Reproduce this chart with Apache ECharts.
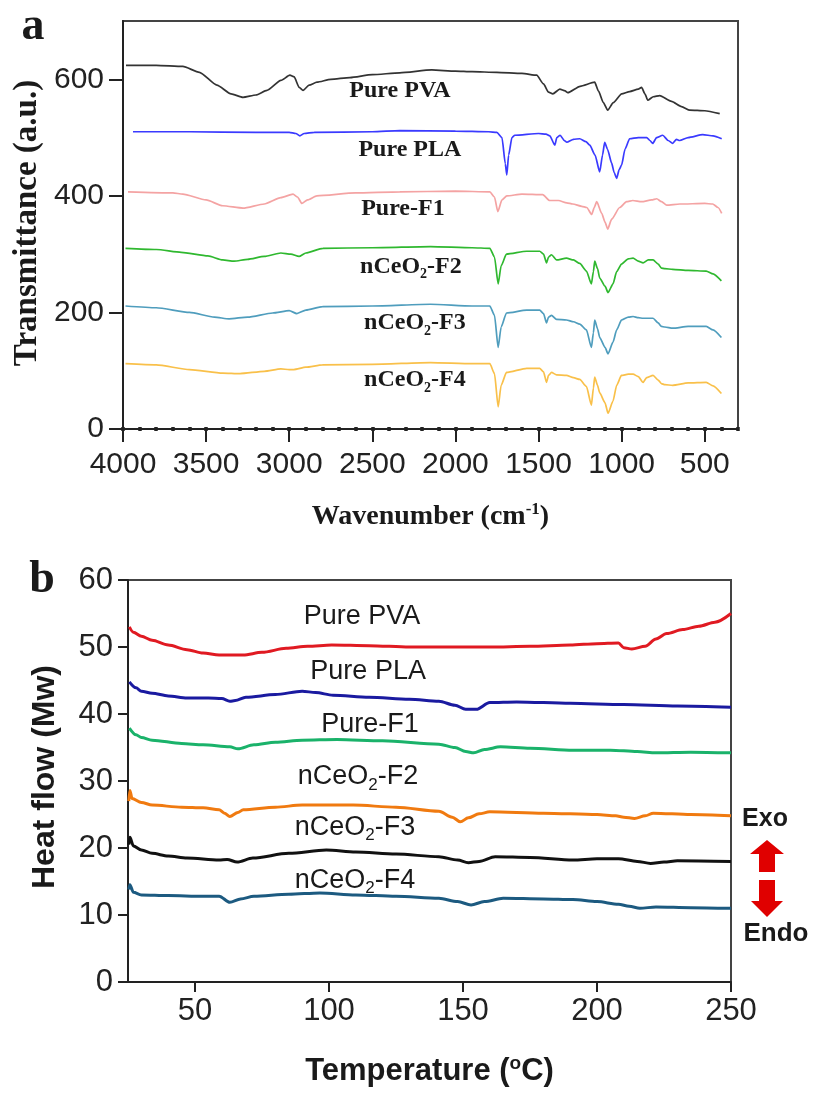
<!DOCTYPE html>
<html>
<head>
<meta charset="utf-8">
<script src="https://cdn.jsdelivr.net/npm/echarts@6/dist/echarts.min.js"></script>
<style>
html,body{margin:0;padding:0;background:#fff;}
#main{width:813px;height:1093px;}
</style>
</head>
<body>
<div id="main"></div>
<script>
// ---------- Panel a: FTIR (wavenumber cm-1, transmittance a.u.) ----------
const ftirNames = ['Pure PVA','Pure PLA','Pure-F1','nCeO2-F2','nCeO2-F3','nCeO2-F4'];
const ftirColors = ['#333333','#3a3aff','#f4a3a3','#2fb82f','#4f9dbd','#f9c04a'];
const ftirTicks = [4000,3500,3000,2500,2000,1500,1000,500];
const transTicks = [0,200,400,600];
const ftirLabelPos = [[2334,581],[2274,479],[2316,378],[2268,279],[2244,182],[2244,84]];

const ftirPVA = [[3982,624],[3800,624],[3640,622],[3540,612],[3435,590],[3350,575],[3278,569],[3200,573],[3134,581],[3050,598],[2996,607],[2970,604],[2940,586],[2917,581],[2880,590],[2833,595],[2750,600],[2635,603],[2500,608],[2335,611],[2142,616],[2000,614],[1900,613],[1751,612],[1600,610],[1511,607],[1470,592],[1440,578],[1414,575],[1372,583],[1340,580],[1324,577],[1250,588],[1162,595],[1140,580],[1110,560],[1084,547],[1050,560],[1000,575],[952,579],[900,583],[880,586],[860,575],[843,564],[810,570],[771,572],[700,562],[640,553],[590,547],[500,546],[410,541]];
const ftirPLA = [[3940,510],[3600,510],[3200,509],[3000,509],[2960,507],[2936,503],[2910,507],[2850,509],[2500,510],[2335,512],[2000,511],[1800,510],[1751,509],[1720,500],[1700,455],[1691,436],[1680,470],[1660,500],[1643,504],[1500,507],[1455,506],[1432,503],[1402,487],[1390,500],[1370,504],[1345,495],[1330,492],[1290,497],[1252,498],[1215,493],[1192,487],[1160,470],[1132,441],[1115,470],[1102,492],[1085,480],[1060,456],[1045,440],[1030,430],[1015,445],[1000,453],[980,480],[952,498],[900,500],[849,500],[830,495],[813,490],[790,500],[753,504],[720,495],[693,490],[670,497],[651,495],[600,500],[512,505],[450,503],[398,498]];
const ftirF1 = [[3970,407],[3700,405],[3640,403],[3500,393],[3400,383],[3278,379],[3150,386],[3050,397],[2977,403],[2950,398],[2924,387],[2890,393],[2834,400],[2600,405],[2335,407],[2000,408],[1793,407],[1765,398],[1745,373],[1720,393],[1691,400],[1600,403],[1475,402],[1433,392],[1380,392],[1330,388],[1294,386],[1240,382],[1210,380],[1180,368],[1165,380],[1150,390],[1120,370],[1100,355],[1084,343],[1060,360],[1012,380],[970,390],[933,392],[880,390],[820,393],[789,395],[760,390],[729,384],[650,386],[500,387],[452,386],[420,380],[398,370]];
const ftirF2 = [[3985,310],[3800,308],[3650,303],[3489,297],[3400,290],[3332,288],[3250,291],[3150,296],[3050,302],[2990,300],[2941,296],[2900,302],[2797,310],[2500,311],[2150,313],[1900,311],[1793,310],[1765,295],[1743,249],[1725,280],[1693,300],[1571,305],[1493,305],[1470,300],[1452,285],[1440,295],[1422,299],[1392,290],[1332,293],[1290,290],[1252,284],[1212,271],[1182,249],[1170,270],[1162,288],[1145,275],[1132,259],[1100,245],[1082,234],[1052,249],[1030,270],[1001,283],[960,292],[931,293],[900,288],[871,285],[840,290],[811,290],[780,283],[761,276],[740,275],[693,274],[600,272],[491,271],[450,266],[400,254]];
const ftirF3 = [[3985,211],[3800,208],[3600,200],[3450,192],[3362,189],[3250,192],[3100,199],[3000,203],[2954,198],[2900,204],[2800,210],[2500,211],[2150,214],[1900,211],[1793,211],[1765,195],[1743,140],[1725,175],[1693,199],[1571,204],[1493,204],[1470,198],[1452,182],[1440,192],[1422,195],[1392,188],[1332,187],[1290,184],[1252,180],[1212,170],[1182,140],[1170,165],[1162,187],[1145,172],[1132,157],[1100,140],[1082,129],[1052,149],[1030,170],[1001,187],[960,192],[931,193],[900,191],[871,190],[840,190],[811,190],[780,182],[761,176],[740,175],[693,173],[600,176],[491,176],[450,170],[400,157]];
const ftirF4 = [[3985,112],[3800,110],[3600,102],[3400,96],[3296,95],[3150,99],[3050,103],[3000,102],[2972,102],[2900,106],[2800,110],[2500,111],[2150,114],[1900,112],[1793,112],[1765,95],[1743,38],[1725,75],[1693,97],[1571,104],[1493,104],[1470,98],[1452,80],[1440,92],[1422,97],[1392,93],[1332,92],[1290,88],[1252,85],[1212,73],[1182,41],[1170,70],[1162,89],[1145,75],[1132,62],[1100,45],[1082,27],[1052,48],[1030,75],[1001,92],[960,94],[931,94],[900,90],[871,80],[850,88],[811,92],[780,84],[761,78],[740,76],[693,75],[600,79],[491,80],[450,74],[400,61]];
const ftirData = [ftirPVA, ftirPLA, ftirF1, ftirF2, ftirF3, ftirF4];

// ---------- Panel b: DSC (temperature °C, heat flow mW) ----------
const dscNames = ['Pure PVA','Pure PLA','Pure-F1','nCeO2-F2','nCeO2-F3','nCeO2-F4'];
const dscColors = ['#e01a22','#1a1aa0','#1ab26a','#f07a10','#111111','#1c5a80'];
const dscTicks = [50,100,150,200,250];
const heatTicks = [0,10,20,30,40,50,60];
const dscLabelPos = [[112.3,54.5],[114.6,46.3],[115.3,38.4],[110.8,30.6],[109.7,23.1],[109.7,15.2]];

const dscPVA = [[25.5,53.0],[27,52.2],[30,51.6],[34,51.0],[40,50.3],[47,49.6],[53,49.1],[59,48.8],[68,48.8],[75,49.2],[84,49.8],[92,50.1],[101,50.3],[115,50.2],[130,50.0],[141,50.0],[160,50.0],[175,50.1],[190,50.3],[200,50.5],[208,50.6],[210,49.9],[213,49.7],[218,50.1],[222,51.2],[226,52.0],[232,52.6],[238,53.1],[244,53.7],[250,55.0]];
const dscPLA = [[25.5,44.8],[28,43.9],[30,43.4],[34,43.1],[40,42.7],[47,42.4],[55,42.4],[60,42.3],[63,41.9],[65,42.0],[69,42.5],[80,42.9],[90,43.4],[95,43.2],[101.5,42.8],[115,42.5],[130,42.2],[141,41.9],[147,41.3],[151,40.7],[155,40.7],[160,41.7],[170,41.8],[190,41.6],[210,41.4],[230,41.2],[250,41.0]];
const dscF1 = [[25.5,37.9],[28,36.9],[30,36.5],[34,36.1],[45,35.6],[53,35.4],[63,35.1],[66,34.8],[72,35.4],[80,35.8],[90,36.1],[103,36.2],[120,36.0],[141,35.5],[147,35.0],[151,34.4],[154,34.2],[158,34.7],[164,35.1],[175,34.9],[191,34.6],[205,34.6],[215,34.4],[222,34.2],[235,34.3],[250,34.2]];
const dscF2 = [[25.3,27.0],[25.7,28.6],[26.5,27.4],[30,26.8],[34,26.4],[45,26.1],[53,26.0],[59,25.7],[61,25.2],[63,24.7],[66,25.3],[68,25.7],[80,26.1],[90,26.4],[109,26.4],[125,26.1],[141,25.5],[146,24.6],[149,23.9],[152,24.5],[156,25.1],[160,25.4],[180,25.2],[200,25.0],[207,24.8],[210,24.6],[214,24.4],[218,24.8],[221,25.2],[235,25.0],[250,24.8]];
const dscF3 = [[25.3,20.5],[25.7,21.6],[27,20.3],[30,19.7],[34,19.2],[40,18.8],[47,18.5],[59,18.2],[62,18.3],[65.7,17.9],[71.6,18.5],[85,19.2],[99,19.7],[110,19.4],[125,19.1],[141,18.7],[148,18.2],[152,17.8],[156,18.0],[162,18.7],[175,18.6],[191,18.2],[200,18.4],[208,18.4],[215,18.0],[220,17.7],[225,17.9],[230,18.1],[250,18.0]];
const dscF4 = [[25.3,13.8],[25.7,14.5],[27,13.4],[30,13.0],[40,12.9],[53,12.8],[59,12.8],[63,11.9],[67,12.4],[72,12.8],[85,13.1],[96.6,13.3],[110,13.0],[125,12.8],[141,12.5],[148,12.0],[153,11.5],[158,12.0],[165,12.5],[180,12.4],[191,12.3],[200,12.0],[208,11.6],[212,11.3],[216,11.0],[222,11.2],[235,11.1],[250,11.0]];
const dscData = [dscPVA, dscPLA, dscF1, dscF2, dscF3, dscF4];

// ---------- helpers ----------
const SERIF = "'Liberation Serif','Times New Roman',serif";
const SANS = "'Liberation Sans',Arial,sans-serif";
const INK = '#1a1a1a';
const plain = v => String(v);

function richName(name){
  const i = name.indexOf('O2');
  if (i < 0) return '{n|' + name + '}';
  return '{n|' + name.slice(0, i + 1) + '}{s|2}{n|' + name.slice(i + 2) + '}';
}
function nameMark(name, pos, family, weight, size, subSize){
  return {
    silent: true,
    symbol: 'rect', symbolSize: 1,
    itemStyle: {color: 'rgba(0,0,0,0)'},
    label: {
      show: true, position: 'inside', color: INK,
      formatter: richName(name),
      rich: {
        n: {fontFamily: family, fontWeight: weight, fontSize: size, lineHeight: size + 6, color: INK},
        s: {fontFamily: family, fontWeight: weight, fontSize: subSize, lineHeight: subSize, verticalAlign: 'bottom', color: INK}
      }
    },
    data: [{coord: pos}]
  };
}

const series = [];
ftirData.forEach((d, i) => {
  series.push({
    type: 'line', xAxisIndex: 0, yAxisIndex: 0, data: d, symbol: 'none',
    smooth: 0.2, smoothMonotone: 'x',
    lineStyle: {color: ftirColors[i], width: 1.7},
    markPoint: nameMark(ftirNames[i], ftirLabelPos[i], SERIF, 'bold', 24, 14)
  });
});
dscData.forEach((d, i) => {
  series.push({
    type: 'line', xAxisIndex: 2, yAxisIndex: 1, data: d, symbol: 'none',
    smooth: 0.3, smoothMonotone: 'x',
    lineStyle: {color: dscColors[i], width: 3},
    markPoint: nameMark(dscNames[i], dscLabelPos[i], SANS, 'normal', 27, 17)
  });
});

const axisLineStyle = {show: true, onZero: false, lineStyle: {color: '#222', width: 2}};

const option = {
  animation: false,
  backgroundColor: '#fff',
  grid: [
    {left: 123, top: 21, right: 75, bottom: 664, show: true, borderColor: '#444', borderWidth: 2, backgroundColor: 'transparent'},
    {left: 128, top: 580, right: 82, bottom: 111, show: true, borderColor: '#444', borderWidth: 2, backgroundColor: 'transparent'}
  ],
  xAxis: [
    {
      gridIndex: 0, type: 'value', inverse: true, min: 300, max: 4000, position: 'bottom',
      axisLine: axisLineStyle,
      axisTick: {show: true, length: 13, lineStyle: {color: '#222', width: 2}, customValues: ftirTicks},
      axisLabel: {customValues: ftirTicks, formatter: plain, margin: 21, fontFamily: SANS, fontSize: 30, color: '#222'},
      splitLine: {show: false},
      name: '{t|Wavenumber (cm}{p|-1}{t|)}', nameLocation: 'middle', nameGap: 72,
      nameTextStyle: {
        rich: {
          t: {fontFamily: SERIF, fontWeight: 'bold', fontSize: 28, lineHeight: 32, color: INK},
          p: {fontFamily: SERIF, fontWeight: 'bold', fontSize: 17, lineHeight: 17, verticalAlign: 'top', color: INK}
        }
      }
    },
    {
      gridIndex: 0, type: 'value', inverse: true, min: 300, max: 4000, interval: 100, position: 'bottom', offset: -2,
      axisLine: {show: false},
      axisTick: {show: true, length: 4, lineStyle: {color: '#222', width: 3.5}},
      axisLabel: {show: false},
      splitLine: {show: false}
    },
    {
      gridIndex: 1, type: 'value', min: 25, max: 250,
      axisLine: axisLineStyle,
      axisTick: {show: true, length: 10, lineStyle: {color: '#222', width: 2}, customValues: dscTicks},
      axisLabel: {customValues: dscTicks, formatter: plain, margin: 14, fontFamily: SANS, fontSize: 31, color: '#222'},
      splitLine: {show: false},
      name: '{t|Temperature (}{p|o}{t|C)}', nameLocation: 'middle', nameGap: 72,
      nameTextStyle: {
        rich: {
          t: {fontFamily: SANS, fontWeight: 'bold', fontSize: 31, lineHeight: 34, color: INK},
          p: {fontFamily: SANS, fontWeight: 'bold', fontSize: 19, lineHeight: 19, verticalAlign: 'top', color: INK}
        }
      }
    }
  ],
  yAxis: [
    {
      gridIndex: 0, type: 'value', min: 0, max: 700,
      axisLine: axisLineStyle,
      axisTick: {show: true, length: 14, lineStyle: {color: '#222', width: 2}, customValues: transTicks},
      axisLabel: {customValues: transTicks, formatter: plain, margin: 19, fontFamily: SANS, fontSize: 30, color: '#222'},
      splitLine: {show: false}
    },
    {
      gridIndex: 1, type: 'value', min: 0, max: 60, interval: 10,
      axisLine: axisLineStyle,
      axisTick: {show: true, length: 10, lineStyle: {color: '#222', width: 2}},
      axisLabel: {formatter: plain, margin: 15, fontFamily: SANS, fontSize: 31, color: '#222'},
      splitLine: {show: false}
    }
  ],
  graphic: [
    {type: 'text', x: 33, y: 27, style: {text: 'a', font: "bold 46px " + SERIF, fill: INK, align: 'center', verticalAlign: 'middle'}},
    {type: 'text', x: 42, y: 580, style: {text: 'b', font: "bold 46px " + SERIF, fill: INK, align: 'center', verticalAlign: 'middle'}},
    {type: 'text', x: 27, y: 223, rotation: Math.PI / 2, style: {text: 'Transmittance (a.u.)', font: "bold 33px " + SERIF, fill: INK, align: 'center', verticalAlign: 'middle'}},
    {type: 'text', x: 45, y: 777, rotation: Math.PI / 2, style: {text: 'Heat flow (Mw)', font: "bold 32px " + SANS, fill: INK, align: 'center', verticalAlign: 'middle'}},
    {type: 'text', x: 765, y: 819, style: {text: 'Exo', font: "bold 25px " + SANS, fill: INK, align: 'center', verticalAlign: 'middle'}},
    {type: 'text', x: 776, y: 934, style: {text: 'Endo', font: "bold 26px " + SANS, fill: INK, align: 'center', verticalAlign: 'middle'}},
    {type: 'polygon', shape: {points: [[767,840],[784,854],[775,854],[775,872],[759,872],[759,854],[750,854]]}, style: {fill: '#e00000'}},
    {type: 'polygon', shape: {points: [[759,880],[775,880],[775,901],[783,901],[767,917],[751,901],[759,901]]}, style: {fill: '#e00000'}}
  ],
  series: series
};

const chart = echarts.init(document.getElementById('main'));
chart.setOption(option);
</script>
</body>
</html>
